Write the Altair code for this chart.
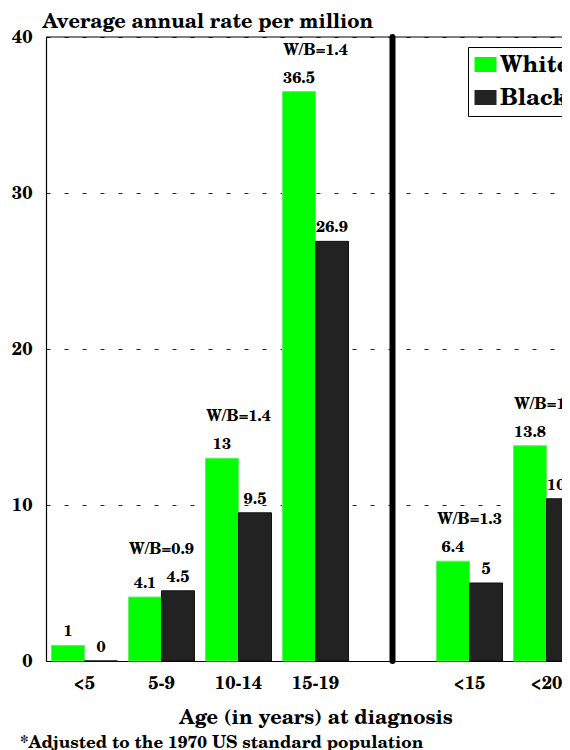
import altair as alt
import pandas as pd

categories = ["<5", "5-9", "10-14", "15-19", " ", "<15", "<20"]
groups = ["<5", "5-9", "10-14", "15-19", "<15", "<20"]
white = [1, 4.1, 13, 36.5, 6.4, 13.8]
black = [0, 4.5, 9.5, 26.9, 5, 10.4]
ratio_groups = ["5-9", "10-14", "15-19", "<15", "<20"]
ratios = ["W/B=0.9", "W/B=1.4", "W/B=1.4", "W/B=1.3", "W/B=1.3"]
races = ["White", "Black"]
colors = ["#00ff00", "#222222"]

FONT = "TeX Gyre Schola, DejaVu Serif, serif"

rows = []
for g, w, b in zip(groups, white, black):
    rows.append({"age": g, "race": "White", "rate": w, "label": f"{w:g}"})
    rows.append({"age": g, "race": "Black", "rate": b, "label": f"{b:g}"})
df = pd.DataFrame(rows)

top = {g: max(w, b) for g, w, b in zip(groups, white, black)}
df_ratio = pd.DataFrame({"age": ratio_groups, "text": ratios,
                         "top": [top[g] for g in ratio_groups]})
df_sep = pd.DataFrame({"age": [" "], "y0": [0], "y1": [40]})
df_top = pd.DataFrame({"y": [40]})

xscale = alt.Scale(domain=categories, paddingInner=0.143, paddingOuter=0.0714,
                   range=[0, 539])
yscale = alt.Scale(domain=[0, 40])
offscale = alt.Scale(domain=races, paddingInner=0, paddingOuter=0)

x_enc = alt.X("age:N", scale=xscale, sort=categories,
              axis=alt.Axis(title="Age (in years) at diagnosis", labelAngle=0,
                            ticks=False, labelPadding=13, titlePadding=15,
                            labelFontSize=18, titleFontSize=20, domain=True,
                            domainColor="black", domainWidth=1.2, grid=False))

bars = alt.Chart(df).mark_bar(strokeWidth=1).encode(
    x=x_enc,
    xOffset=alt.XOffset("race:N", scale=offscale, sort=races),
    y=alt.Y("rate:Q", scale=yscale,
            axis=alt.Axis(values=[0, 10, 20, 30, 40], title="Average annual rate per million",
                          titleAngle=0, titleAlign="left", titleBaseline="bottom",
                          titleX=-4, titleY=-6, titleFontSize=20,
                          ticks=False, labelPadding=14, labelFontSize=18,
                          domain=True, domainColor="black", domainWidth=1.2,
                          grid=True, gridDash=[4, 14], gridColor="#222222",
                          gridWidth=1)),
    color=alt.Color("race:N", scale=alt.Scale(domain=races, range=colors),
                    sort=races,
                    legend=alt.Legend(title=None, orient="none", legendX=422, legendY=10,
                                      fillColor="white", strokeColor="black",
                                      padding=6, labelFontSize=23, rowPadding=9,
                                      symbolType="M-1,-0.68H1V0.68H-1Z",
                                      symbolSize=484, symbolStrokeWidth=0,
                                      labelOffset=3)),
    stroke=alt.Stroke("race:N", scale=alt.Scale(domain=races, range=["#66ee66", "#111111"]),
                      legend=None),
)

values = alt.Chart(df).mark_text(baseline="bottom", dy=-6, fontSize=16,
                                 fontWeight="bold", font=FONT, color="black").encode(
    x=alt.X("age:N", scale=xscale, sort=categories),
    xOffset=alt.XOffset("race:N", scale=offscale, sort=races),
    y=alt.Y("rate:Q", scale=yscale),
    text="label:N",
)

ratio_text = alt.Chart(df_ratio).mark_text(baseline="bottom", dy=-34, fontSize=16,
                                           fontWeight="bold", font=FONT,
                                           color="black").encode(
    x=alt.X("age:N", scale=xscale, sort=categories),
    y=alt.Y("top:Q", scale=yscale),
    text="text:N",
)

sep = alt.Chart(df_sep).mark_rule(strokeWidth=6, strokeCap="round", color="black").encode(
    x=alt.X("age:N", scale=xscale, sort=categories),
    y=alt.Y("y0:Q", scale=yscale),
    y2="y1:Q",
)

top_line = alt.Chart(df_top).mark_rule(color="black", strokeWidth=1.2).encode(
    y=alt.Y("y:Q", scale=yscale),
)

chart = alt.layer(bars, top_line, values, ratio_text, sep).properties(
    width=516, height=624,
    autosize=alt.AutoSizeParams(type="none"),
    padding={"left": 38, "top": 29, "right": 0, "bottom": 89},
    title=alt.TitleParams(text="*Adjusted to the 1970 US standard population",
                          orient="bottom", anchor="start", frame="group",
                          dx=-26, offset=8, fontSize=17, font=FONT, fontWeight="bold"),
).configure_view(stroke=None).configure_axis(
    labelFont=FONT, titleFont=FONT, labelFontWeight="bold", titleFontWeight="bold",
    labelColor="black", titleColor="black",
).configure_legend(labelFont=FONT, labelFontWeight="bold", labelColor="black")

chart.save("out.html", embed_options={"renderer": "svg", "actions": False})
